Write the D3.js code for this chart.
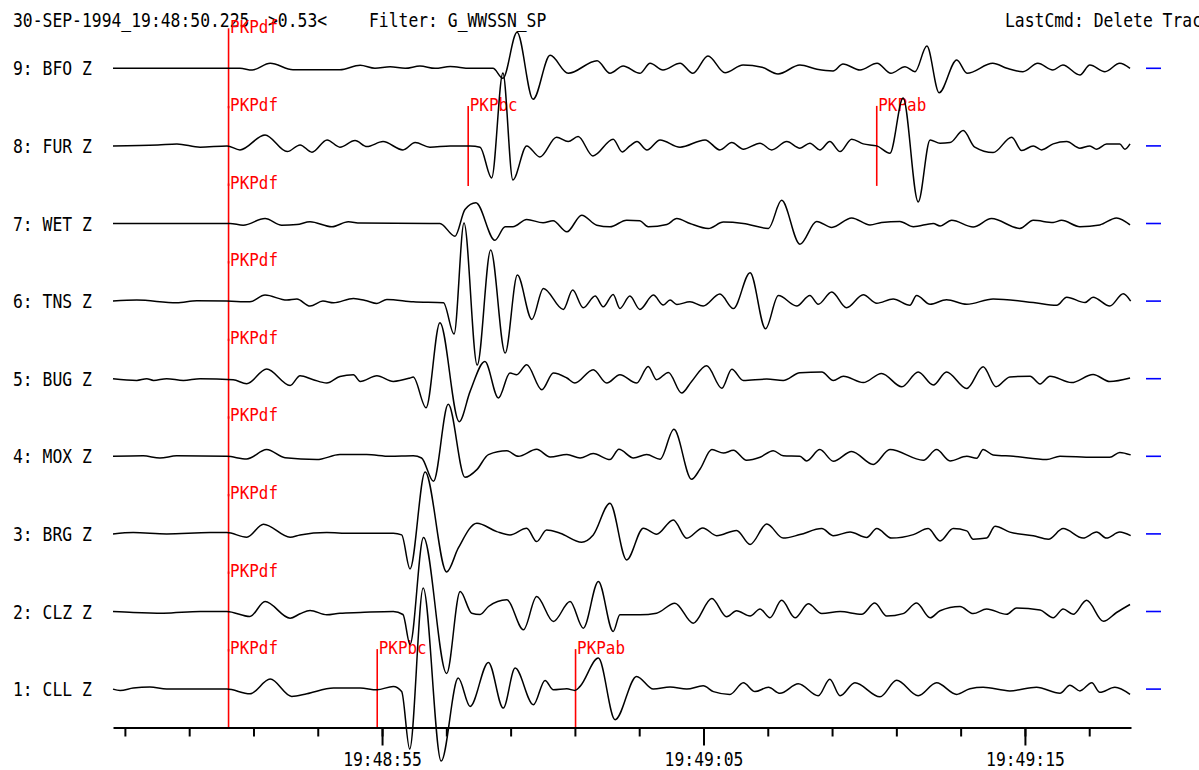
<!DOCTYPE html>
<html><head><meta charset="utf-8">
<script src="https://cdn.jsdelivr.net/npm/d3@7"></script>
<style>body{margin:0;background:#fff;} svg{display:block;}</style>
</head><body>
<svg id="chart" width="1199" height="770"></svg>
<script>
// ---------- DATA (time = seconds after 19:48:00, amplitude = counts, up positive) ----------
const stations = ["9: BFO Z","8: FUR Z","7: WET Z","6: TNS Z","5: BUG Z","4: MOX Z","3: BRG Z","2: CLZ Z","1: CLL Z"];

const traceBFO = [[46.63,0],[50.58,0],[50.96,-1.7],[51.52,5],[52.23,-1.5],[53.69,-1.5],[54.32,3],[54.78,0],[55.25,1.5],[55.72,0],[56.18,2.3],[56.65,0],[57.12,1.7],[57.74,0],[58.45,0],[58.76,-10],[59.20,36],[59.70,-31],[60.23,13],[60.79,-5],[61.69,7.6],[62.09,-5],[62.50,2.3],[63.02,-5],[63.34,5],[63.74,-1.7],[64.27,5],[64.67,-5],[65.14,12.3],[65.67,-4.4],[66.23,3.3],[66.82,1],[67.32,-5.7],[68.00,3.3],[68.53,-1],[69.03,-2.7],[69.34,4.3],[69.87,-1.7],[70.40,5],[70.83,-5],[71.27,1.6],[71.58,-3.4],[71.95,22.3],[72.33,-24.4],[72.88,8.3],[73.20,-5],[74.00,5],[74.44,0],[74.94,-3.4],[75.40,5],[75.87,-1.7],[76.18,3.3],[76.71,-6.7],[77.02,3.3],[77.49,-3.4],[77.95,5],[78.27,0]];
const traceFUR = [[46.63,0],[48.03,1],[48.62,2],[49.34,-1.3],[50.18,0],[50.58,-4],[51.36,11],[52.05,-5.7],[52.45,1],[52.82,-6.3],[53.29,6],[53.69,-1.3],[54.16,5.3],[54.53,-0.7],[55.03,4.3],[55.65,-4],[56.03,3.3],[56.49,-1.3],[57.12,0],[57.74,0],[58.05,-1.3],[58.41,-32],[58.76,73],[59.07,-34],[59.50,0],[59.91,-11],[60.43,8.7],[60.79,4.3],[61.10,9.3],[61.56,-10],[62.19,6.7],[62.47,-6],[62.71,0],[62.93,4.3],[63.24,-4],[63.65,6],[64.27,-1.3],[65.05,6],[65.51,-4],[65.88,3.3],[66.24,-3.3],[66.76,2.7],[67.12,-4],[67.59,4.3],[68.00,-2.3],[68.31,2.7],[68.62,-4],[68.93,4.3],[69.25,-5.7],[69.61,6.7],[69.97,2],[70.39,0],[70.80,-7.3],[71.21,48],[71.68,-56],[72.05,6],[72.36,2.7],[72.67,3.3],[73.08,15.3],[73.44,-1.3],[74.01,-6.7],[74.59,8.7],[74.90,-4.7],[75.26,0],[75.52,-4],[75.88,2],[76.30,4.3],[76.71,-2.3],[77.02,0],[77.23,-3.3],[77.54,2],[77.95,2],[78.11,-3.3],[78.27,2]];
const traceWET = [[46.63,0],[50.27,0],[50.68,-1.7],[51.36,5],[51.88,-1.7],[52.35,-1],[52.76,1.7],[53.44,-3.3],[53.95,1.7],[54.32,0.5],[56.49,0],[56.80,0],[57.27,-12.7],[57.58,14],[57.92,20.7],[58.51,-16.7],[58.83,-3.3],[59.07,-3.3],[59.50,4],[60.01,0.7],[60.32,2.7],[60.75,-8.3],[61.21,8.3],[61.68,-1.7],[62.09,-3.3],[62.61,3.3],[63.02,2.7],[63.28,-3.3],[63.86,-1],[64.17,5],[64.58,0],[65.15,-5],[65.62,1.4],[66.24,0],[67.02,-4.9],[67.43,23.2],[68.00,-20.7],[68.52,2.1],[68.99,-3.9],[69.61,5.6],[70.18,-1.4],[70.54,1],[71.11,2.1],[71.53,-3.2],[72.15,0],[72.36,-2.5],[72.72,3.2],[73.39,-3.5],[73.96,4.9],[74.84,-4.9],[75.26,3.2],[75.88,1],[76.14,3.2],[76.71,-3.2],[77.33,-1.4],[77.85,5.6],[78.27,-1.4]];
const traceTNS = [[46.63,0],[47.37,1],[48.61,-1.7],[49.24,0.3],[50.17,0],[50.89,-0.7],[51.36,6],[52.04,1],[52.35,2],[52.76,-5],[53.16,0],[53.49,-1.7],[54.11,2.7],[54.52,0.3],[54.84,-2.3],[55.15,1.7],[55.97,-0.7],[56.91,-1.7],[57.24,-33],[57.55,78],[57.96,-64],[58.38,51],[58.83,-52],[59.21,26],[59.66,-18.3],[60.02,12.7],[60.64,-8.3],[60.93,11],[61.26,-6.7],[61.63,5],[61.88,-5.7],[62.19,6.7],[62.40,-7.3],[62.71,5],[63.02,-8.3],[63.44,6],[63.75,-4],[63.96,1],[64.17,-3.3],[64.58,-0.7],[64.99,-5],[65.51,7],[65.93,-7.5],[66.45,28.4],[66.93,-27.7],[67.33,5.6],[67.90,-4.9],[68.31,5.6],[68.57,-3.2],[68.99,9.1],[69.45,-6.7],[69.97,6.3],[70.39,-2.1],[70.90,2.1],[71.42,-4.2],[71.63,5.6],[72.05,-3.2],[72.56,1.4],[73.19,-3.2],[74.01,2.1],[75.26,-1.4],[75.99,-4.2],[76.30,3.9],[76.87,-1.4],[77.12,3.9],[77.64,-4.9],[78.06,7.4],[78.29,0]];
const traceBUG = [[46.63,0],[47.37,-1.7],[47.68,0],[47.89,-1.7],[48.30,0],[48.82,-1.7],[49.34,0],[50.37,-1],[50.79,-5],[51.41,9.7],[52.14,-6.7],[52.45,3],[52.86,-1],[53.28,-4.3],[53.69,2.3],[54.11,4],[54.32,-2.7],[54.84,3],[55.35,-2.7],[55.87,0.7],[55.97,1.7],[56.37,-29],[56.80,56],[57.40,-43],[57.74,-12.7],[58.20,17.3],[58.62,-19.3],[58.98,5.7],[59.19,4],[59.50,14],[59.97,-11],[60.33,5.7],[60.75,0.7],[61.00,-4.3],[61.57,9],[61.99,-4.3],[62.40,4],[62.92,-4.3],[63.28,12.3],[63.54,-1],[63.91,6.3],[64.32,-14.3],[64.63,-2.7],[65.10,13],[65.57,-9.5],[65.88,9.5],[66.24,-1.8],[66.97,-0.4],[67.48,-1.8],[68.00,6],[68.68,6.7],[69.04,-1.8],[69.35,2.5],[69.97,-3.9],[70.54,5.3],[71.17,-8.1],[71.68,6.7],[72.15,-6.3],[72.56,6.7],[73.19,-9.8],[73.70,11.9],[74.10,-8.1],[74.53,1.8],[75.16,2.5],[75.47,-5.3],[75.78,2.5],[76.45,-3.9],[77.12,4.2],[77.64,-2.8],[78.27,0.7]];
const traceMOX = [[46.63,0],[47.57,0.5],[48.09,-1.7],[48.61,0.5],[50.17,0],[50.79,-2.7],[51.41,6.7],[51.98,-1.5],[52.97,-3.3],[53.69,1.7],[54.52,1.7],[55.25,0],[55.97,0.5],[56.23,-1.7],[56.60,-25],[57.06,52],[57.58,-21],[57.95,-13.3],[58.31,1.7],[58.88,5.5],[59.24,0],[59.81,7],[60.23,-0.7],[60.75,1.7],[61.16,-1.7],[61.57,2.7],[62.09,-3.3],[62.37,7],[62.82,-1.7],[63.23,1.7],[63.65,-3],[64.08,27],[64.63,-23],[64.89,-13],[65.26,6.7],[65.62,3.2],[65.93,6],[66.34,-3.9],[66.76,-1],[67.17,5.6],[67.48,0.5],[68.00,0],[68.21,-4.6],[68.62,6.7],[69.04,-4.9],[69.61,4.9],[70.28,-8.1],[70.80,6.7],[71.84,-3.9],[72.25,6.7],[72.67,-4.6],[73.19,0],[73.50,-2],[73.70,6.7],[74.01,1.4],[74.64,0],[75.68,-3.2],[76.09,0],[77.12,-1],[77.64,-1],[77.95,3.9],[78.29,1.4]];
const traceBRG = [[46.63,0],[47.26,1.3],[48.30,0],[49.65,1.3],[50.17,1.3],[50.79,-3.3],[51.31,9.7],[52.14,-3.3],[52.45,-1],[53.28,1.3],[54.00,0.7],[55.35,0.7],[55.61,-1],[55.87,-35],[56.34,62],[57.01,-38],[57.37,-14.3],[57.95,10.7],[58.57,2.3],[58.98,-1],[59.50,5.7],[59.81,-7.7],[60.12,4],[60.54,0.7],[61.21,-8.3],[61.57,-1],[62.09,30.7],[62.61,-26],[63.13,5.7],[63.54,-0.3],[64.06,14],[64.48,-4.3],[64.98,6],[65.41,-1.8],[66.03,3.5],[66.45,-10.5],[66.97,9.8],[67.48,-4.2],[68.00,-0.7],[68.68,5.3],[69.04,-1.8],[69.56,1.8],[70.08,-3.5],[70.39,5.3],[70.85,-4.2],[71.53,-0.7],[71.99,5.3],[72.36,-7],[72.77,5.3],[73.19,3],[73.39,-5.3],[73.81,-4.2],[74.07,7.7],[74.53,1.8],[75.26,-1.8],[75.73,-5.3],[76.19,5.3],[76.81,-4.2],[77.23,1.8],[77.54,-4.2],[77.95,1.8],[78.29,-1.8]];
const traceCLZ = [[46.63,0],[47.26,-1],[48.20,-1.7],[49.34,0],[50.17,0],[50.89,-5],[51.36,10],[52.14,-6.7],[52.45,-2.3],[52.76,1],[53.28,-3.3],[53.69,-1.7],[54.32,-1],[55.35,0],[55.65,-3],[55.87,-33],[56.29,74],[57.01,-62],[57.43,20],[57.79,-1.7],[58.05,-3],[58.31,5],[58.88,11.7],[59.40,-18.3],[59.81,15],[60.33,-10],[60.85,10],[61.26,-16.7],[61.73,30],[62.19,-20],[62.40,-3.3],[62.61,-3.3],[63.02,-3.3],[63.54,-1.7],[64.11,8.3],[64.68,-11.7],[65.26,13],[65.72,-5.3],[66.03,0.7],[66.45,-4.6],[66.76,2.5],[67.07,-6.3],[67.43,11.2],[67.85,-6.3],[68.26,7.7],[68.68,-2.1],[69.25,0],[69.92,-2.8],[70.33,8.4],[70.70,-4.6],[71.21,-2.1],[71.63,8.4],[72.05,-6.3],[72.36,0.7],[72.98,4.9],[73.39,-2.1],[73.81,2.5],[74.43,-2.8],[74.74,3.5],[75.47,1.4],[75.88,-6.3],[76.19,2.5],[76.50,-2.8],[76.92,11.2],[77.44,-9.8],[77.85,-1],[78.27,7]];
const traceCLL = [[46.63,0],[46.85,-1.3],[47.26,1],[47.78,2],[48.30,0],[49.34,0],[50.17,0],[50.89,-4.7],[51.52,10],[52.19,-7.3],[52.66,-4.7],[53.49,1],[54.32,1],[54.84,-0.7],[55.35,2.7],[55.61,-2.3],[55.86,-60],[56.28,101],[56.84,-72],[57.37,11],[57.74,-17.3],[58.31,26.7],[58.77,-19],[59.14,21],[59.71,-15.7],[60.07,8.7],[60.33,-0.7],[60.75,0.3],[61.00,-1.3],[61.16,2.7],[61.73,31],[62.25,-30.7],[62.92,12.7],[63.44,0],[63.96,2],[64.48,0],[64.99,3.3],[65.31,-2.5],[65.82,-5.3],[66.24,6.3],[66.60,-2.5],[67.02,1.8],[67.38,-4.2],[67.95,5.3],[68.57,-6.7],[68.93,9.8],[69.25,-6.7],[69.71,6.3],[70.49,-7.7],[71.01,8.8],[71.68,-6.7],[72.25,6.3],[72.88,-5.3],[73.29,0.4],[73.70,1.8],[74.53,-1.8],[75.36,1.8],[76.09,-4.2],[76.40,3.9],[76.71,-1.8],[77.08,6.3],[77.33,-3.2],[77.80,1.8],[78.27,-5.3]];

const traces = [traceBFO, traceFUR, traceWET, traceTNS, traceBUG, traceMOX, traceBRG, traceCLZ, traceCLL];

// phase picks
const pickStation = ["9: BFO Z","8: FUR Z","8: FUR Z","8: FUR Z","7: WET Z","6: TNS Z","5: BUG Z","4: MOX Z","3: BRG Z","2: CLZ Z","1: CLL Z","1: CLL Z","1: CLL Z"];
const pickPhase   = ["PKPdf","PKPdf","PKPbc","PKPab","PKPdf","PKPdf","PKPdf","PKPdf","PKPdf","PKPdf","PKPdf","PKPbc","PKPab"];
const pickTime    = [50.225,50.225,57.68,70.39,50.225,50.225,50.225,50.225,50.225,50.225,50.225,54.85,61.02];

// time axis
const timeDomain = [46.63, 78.30];
const minorTicks = [47,49,51,53,55,57,59,61,63,65,67,69,71,73,75,77];
const majorTicks = [55,65,75];
const majorTickLabels = ["19:48:55","19:49:05","19:49:15"];

// header texts
const headerTexts = ["30-SEP-1994_19:48:50.225", ">0.53<", "Filter: G_WWSSN_SP", "LastCmd: Delete Traces"];

// ---------- DRAWING ----------
const svg = d3.select("#chart");
const FONT = "'DejaVu Sans Mono', 'Liberation Mono', monospace";
const CW = 9.85;

const x = d3.scaleLinear().domain(timeDomain).range([113, 1131]);
const yBase = d3.scalePoint().domain(stations).range([68.3, 689.1]);
const amp = d3.scaleLinear().domain([-100, 100]).range([100, -100]);

function fit(sel, cw) {
  sel.each(function() {
    const t = d3.select(this);
    t.attr("textLength", t.text().length * cw).attr("lengthAdjust", "spacingAndGlyphs");
  });
}

// header
const headerX = [13, 268, 369, 1005];
svg.selectAll("text.hdr").data(headerTexts).join("text")
  .attr("class", "hdr")
  .attr("x", (d, i) => headerX[i]).attr("y", 26.5)
  .attr("font-family", FONT).attr("font-size", 19).attr("fill", "#000")
  .text(d => d).call(fit, CW);

// station labels
svg.selectAll("text.sta").data(stations).join("text")
  .attr("class", "sta")
  .attr("x", 13).attr("y", d => yBase(d) + 7)
  .attr("font-family", FONT).attr("font-size", 19).attr("fill", "#000")
  .text(d => d).call(fit, CW);

// picks (drawn under traces)
const picks = pickStation.map((s, i) => ({s, p: pickPhase[i], t: pickTime[i]}));
const pg = svg.append("g");
pg.selectAll("line").data(picks).join("line")
  .attr("x1", d => x(d.t)).attr("x2", d => x(d.t))
  .attr("y1", d => yBase(d.s) + amp(40)).attr("y2", d => Math.min(yBase(d.s) + amp(-40), 728))
  .attr("stroke", "#ff0000").attr("stroke-width", 1.6);
pg.selectAll("text").data(picks).join("text")
  .attr("x", d => x(d.t) + 1.5).attr("y", d => yBase(d.s) - 35)
  .attr("font-family", FONT).attr("font-size", 18.5).attr("fill", "#ff0000")
  .text(d => d.p).call(fit, 9.6);

// traces
const line = d3.line().curve(d3.curveMonotoneX);
svg.append("g").selectAll("path").data(traces).join("path")
  .attr("d", (tr, i) => {
    const b = yBase(stations[i]);
    return line(tr.map(d => [x(d[0]), b + amp(d[1])]));
  })
  .attr("fill", "none").attr("stroke", "#000").attr("stroke-width", 1.5)
  .attr("stroke-linejoin", "round");

// blue end markers
svg.append("g").selectAll("line").data(stations).join("line")
  .attr("x1", x.range()[1] + 15).attr("x2", x.range()[1] + 30)
  .attr("y1", d => yBase(d)).attr("y2", d => yBase(d))
  .attr("stroke", "#0000ff").attr("stroke-width", 1.6);

// time axis
const axisY = 727.5;
const gMinor = svg.append("g").attr("transform", `translate(0,${axisY})`)
  .call(d3.axisBottom(x).tickValues(minorTicks).tickSize(9).tickSizeOuter(0).tickFormat(""));
const gMajor = svg.append("g").attr("transform", `translate(0,${axisY})`)
  .call(d3.axisBottom(x).tickValues(majorTicks).tickSize(18).tickSizeOuter(0)
    .tickFormat((d, i) => majorTickLabels[i]));
gMajor.select(".domain").remove();
svg.selectAll(".domain").attr("stroke", "#000").attr("stroke-width", 2);
svg.selectAll(".tick line").attr("stroke", "#000").attr("stroke-width", 2);
gMajor.selectAll(".tick text")
  .attr("y", 38).attr("dy", null)
  .attr("font-family", FONT).attr("font-size", 19).attr("fill", "#000")
  .call(fit, CW);
</script>
</body></html>
